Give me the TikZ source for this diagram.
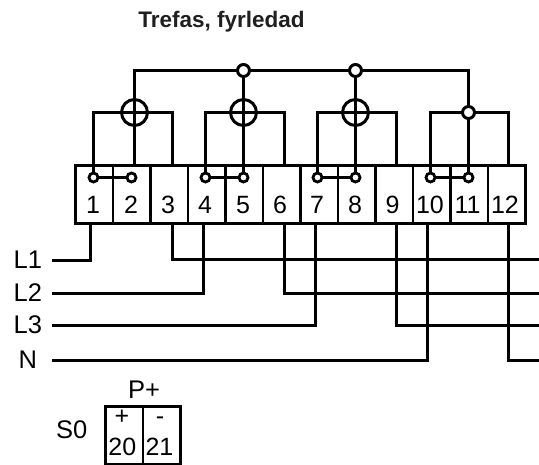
\documentclass[tikz,border=0pt]{standalone}
\usepackage{fontspec}
\setmainfont{Liberation Sans}
\begin{document}
\begin{tikzpicture}[x=1pt,y=-1pt,
  wire/.style={line width=3pt,black},
  boxline/.style={draw=black,line width=2.8pt},
  cell/.style={boxline,minimum width=37.5pt,minimum height=58pt,inner sep=0pt,anchor=north west},
  num/.style={font=\fontsize{25}{25}\selectfont,inner sep=0pt},
  lbl/.style={font=\fontsize{25.5}{26}\selectfont,inner sep=0pt},
  dot/.style={circle,draw=black,fill=white,line width=2.8pt,minimum size=9pt,inner sep=0pt},
  bigdot/.style={circle,draw=black,fill=white,line width=3pt,minimum size=12pt,inner sep=0pt},
  coil/.style={circle,draw=black,line width=3pt,minimum size=26pt,inner sep=0pt}]
\useasboundingbox (0,0) rectangle (539,465);
\node[font=\bfseries\fontsize{22.5}{24}\selectfont,inner sep=0pt,anchor=base,text=black!88] (title) at (221.5,28) {Trefas, fyrledad};
% terminal cells
\foreach \i/\x in {1/74,2/111.5,3/149,4/186.5,5/224,6/261.5,7/299,8/336.5,9/374,10/411.5,11/449,12/486.5}
  \node[cell] (t\i) at (\x,164) {};
\foreach \i/\x in {1/93,2/131,3/168,4/205,5/243,6/280,7/317,8/355,9/392.5}
  \node[num] (n\i) at (\x,205) {\i};
\node[num] (n10) at (430,205) {10};
\node[num] (n11) at (467.5,205) {11};
\node[num] (n12) at (505,205) {12};
% bus and junctions
\coordinate (busl) at (134.5,70.5);
\coordinate (busr) at (468.5,70.5);
\coordinate (w1) at (134.5,164);
\coordinate (c1l) at (93.5,112.5); \coordinate (c1r) at (172.5,112.5);
\coordinate (c2l) at (205.5,112.5); \coordinate (c2r) at (284.5,112.5);
\coordinate (c3l) at (317.5,112.5); \coordinate (c3r) at (396.5,112.5);
\coordinate (c4l) at (430.5,112.5); \coordinate (c4r) at (508.5,112.5);
\node[dot] (d1) at (93.5,177.5) {};
\node[dot] (d2) at (131.5,177.5) {};
\node[dot] (d4) at (205.5,177.5) {};
\node[dot] (d5) at (243.5,177.5) {};
\node[dot] (d7) at (317.5,177.5) {};
\node[dot] (d8) at (355.5,177.5) {};
\node[dot] (d10) at (430.5,177.5) {};
\node[dot] (d11) at (468.5,177.5) {};
\node[bigdot] (b1) at (243.5,70.5) {};
\node[bigdot] (b2) at (355.5,70.5) {};
\node[bigdot] (b3) at (468.5,112.5) {};
\node[coil] (k1) at (134.5,112.5) {};
\node[coil] (k2) at (243.5,112.5) {};
\node[coil] (k3) at (355.5,112.5) {};
\draw[wire] (w1) -- (busl) -- (b1);
\draw[wire] (b1) -- (b2);
\draw[wire] (b2) -- (busr) -- (b3);
\draw[wire] (b1) -- (d5);
\draw[wire] (b2) -- (d8);
\draw[wire] (b3) -- (d11);
\draw[wire] (d1) -- (c1l) -- (c1r) -- (c1r |- t3.north);
\draw[wire] (d4) -- (c2l) -- (c2r) -- (c2r |- t6.north);
\draw[wire] (d7) -- (c3l) -- (c3r) -- (c3r |- t9.north);
\draw[wire] (d10) -- (c4l) -- (b3);
\draw[wire] (b3) -- (c4r) -- (c4r |- t12.north);
\draw[wire] (d1) -- (d2);
\draw[wire] (d4) -- (d5);
\draw[wire] (d7) -- (d8);
\draw[wire] (d10) -- (d11);
% lines
\node[lbl,anchor=west] (L1) at (13.5,260) {L1};
\node[lbl,anchor=west] (L2) at (13.5,293) {L2};
\node[lbl,anchor=west] (L3) at (13.5,325) {L3};
\node[lbl,anchor=west] (N) at (18.5,360) {N};
\coordinate (l1s) at (52,260.5); \coordinate (l2s) at (52,293.5);
\coordinate (l3s) at (52,325.5); \coordinate (ns) at (52,360.5);
\coordinate (r3) at (539,259.5); \coordinate (r6) at (539,293.5);
\coordinate (r9) at (539,325.5); \coordinate (r12) at (539,360.5);
\coordinate (v1) at (90.5,222); \coordinate (v4) at (203.5,222);
\coordinate (v7) at (315.5,222); \coordinate (v10) at (427.5,222);
\coordinate (v3) at (172.5,222); \coordinate (v6) at (284.5,222);
\coordinate (v9) at (396.5,222); \coordinate (v12) at (508.5,222);
\draw[wire] (l1s) -| (v1);
\draw[wire] (l2s) -| (v4);
\draw[wire] (l3s) -| (v7);
\draw[wire] (ns) -| (v10);
\draw[wire] (v3) |- (r3);
\draw[wire] (v6) |- (r6);
\draw[wire] (v9) |- (r9);
\draw[wire] (v12) |- (r12);
% S0
\node[cell] (p1) at (104,405) {};
\node[cell] (p2) at (141.5,405) {};
\node[lbl] (plus) at (144,389.5) {P+};
\node[lbl,anchor=west] (s0) at (56,430) {S0};
\node[num,anchor=base] (pa) at (122,424.5) {+};
\node[num,anchor=base] (pb) at (160,424.5) {-};
\node[num] (p20) at (122.3,447) {20};
\node[num] (p21) at (159.5,447) {21};
\end{tikzpicture}
\end{document}
